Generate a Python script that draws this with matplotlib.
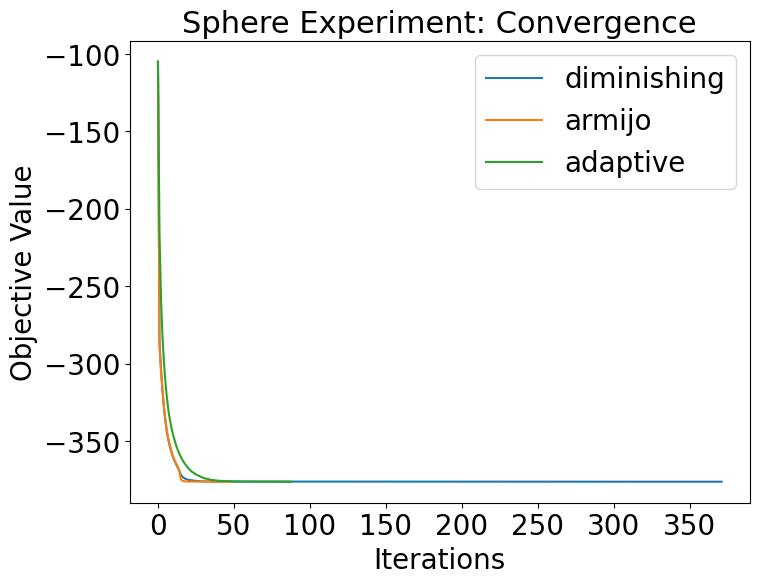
import matplotlib
matplotlib.use("Agg")
import matplotlib.pyplot as plt
from matplotlib.ticker import MultipleLocator

# iterations / objective values
dim_iters = [0, 1, 2, 3, 4, 5, 6, 7, 8, 9, 10, 11, 12, 13, 14, 15, 16, 18, 20, 25, 30, 40, 371]
dim_vals = [-105, -285, -303, -318, -329, -338, -345, -350, -354, -357.5, -360.5, -363, -365,
            -367, -369, -371.5, -373, -374.3, -375, -375.7, -376, -376.1, -376.2]

arm_iters = [0, 1, 2, 3, 4, 5, 6, 7, 8, 9, 10, 11, 12, 13, 14, 15, 16, 18, 20, 48]
arm_vals = [-105, -289, -305, -317, -328, -337, -344, -349, -353, -357, -360, -362.5, -364.5,
            -366.5, -369, -374.5, -375.6, -376, -376.1, -376.2]

ada_iters = [0, 1, 2, 3, 4, 5, 6, 7, 8, 9, 10, 12, 14, 16, 18, 20, 22, 25, 30, 35, 40, 50, 60, 88]
ada_vals = [-105, -215, -258, -283, -300, -313, -323, -331, -337, -342, -346, -353, -358, -362,
            -365, -367.5, -369.5, -371.5, -373.8, -375, -375.6, -376, -376.1, -376.2]

plt.rcParams['font.size'] = 20

fig, ax = plt.subplots(figsize=(8, 6), dpi=100)
ax.plot(dim_iters, dim_vals, label='diminishing')
ax.plot(arm_iters, arm_vals, label='armijo')
ax.plot(ada_iters, ada_vals, label='adaptive')
ax.xaxis.set_major_locator(MultipleLocator(50))
ax.set_title('Sphere Experiment: Convergence', fontsize=22)
ax.set_xlabel('Iterations')
ax.set_ylabel('Objective Value')
ax.legend()
fig.savefig('out.png', bbox_inches='tight')
